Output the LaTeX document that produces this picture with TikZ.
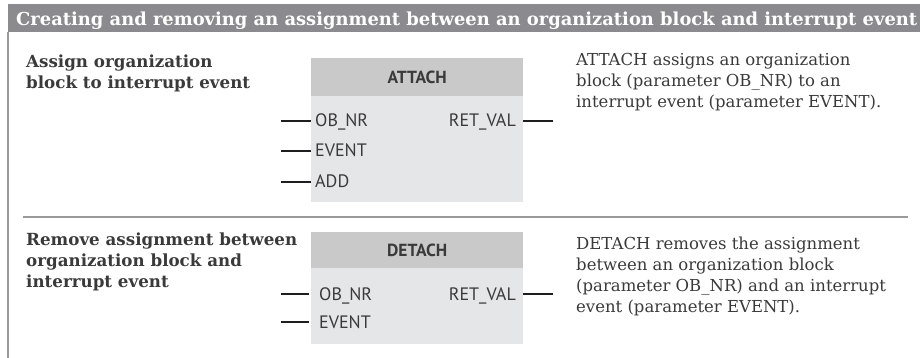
\documentclass[tikz,border=0pt]{standalone}
\usepackage{fontspec}
\setmainfont{DejaVu Serif}
\newfontfamily\blkfont{PT Sans}
\definecolor{hdrgray}{HTML}{8B8B8F}
\definecolor{blkhead}{HTML}{C9C9CA}
\definecolor{blkbody}{HTML}{E5E6E7}
\definecolor{txt}{HTML}{3A3A3A}
\definecolor{rule}{HTML}{9A9A9A}
\definecolor{pin}{HTML}{1E1E1E}
\tikzset{
  hdrtext/.style={text=white, inner sep=0pt, font={\fontsize{17.9}{20}\selectfont\bfseries}},
  headtext/.style={text=txt, inner sep=0pt, align=left, font={\fontsize{16.7}{21}\selectfont\bfseries}},
  desctext/.style={text=txt, inner sep=0pt, align=left, font={\fontsize{16.5}{21}\selectfont}},
  blktitle/.style={fill=blkhead, inner sep=0pt, minimum width=212pt, text=txt, font={\blkfont\fontsize{17.5}{20}\selectfont\bfseries}},
  blkbodystyle/.style={fill=blkbody, inner sep=0pt, minimum width=212pt},
  pinlabel/.style={text=txt, inner sep=0pt, font={\blkfont\fontsize{18}{20}\selectfont}},
  pinline/.style={draw=pin, line width=2pt},
  rulestyle/.style={draw=rule, line width=1.3pt}
}
\begin{document}
\begin{tikzpicture}[x=1pt,y=-1pt]
\useasboundingbox (0,0) rectangle (920,358);
% header
\fill[hdrgray] (7.5,4) rectangle (920,32);
\node[hdrtext, anchor=base west] (title) at (16,26) {Creating and removing an assignment between an organization block and interrupt event};
\draw[rulestyle] (8,32) -- (8,358);
\draw[rulestyle] (23,217) -- (908,217);

% ATTACH section (base anchor = baseline of last line)
\node[headtext, anchor=base west] (h1) at (26,89) {Assign organization\\block to interrupt event};
\node[blktitle, minimum height=38pt, anchor=north west] (atth) at (311,58) {ATTACH};
\node[blkbodystyle, minimum height=106pt, anchor=north west] (attb) at (311,96) {};
\node[pinlabel, anchor=base west] (a1) at (315,127) {OB\_NR};
\node[pinlabel, anchor=base west] (a2) at (315,157) {EVENT};
\node[pinlabel, anchor=base west] (a3) at (315,188) {ADD};
\node[pinlabel, anchor=base east] (a4) at (516,127) {RET\_VAL};
\coordinate (a1e) at (281,121.5);
\coordinate (a2e) at (281,151.5);
\coordinate (a3e) at (281,182);
\coordinate (a4e) at (553,121.5);
\draw[pinline] (a1e) -- (a1e -| attb.west);
\draw[pinline] (a2e) -- (a2e -| attb.west);
\draw[pinline] (a3e) -- (a3e -| attb.west);
\draw[pinline] (a4e -| attb.east) -- (a4e);
\node[desctext, anchor=base west] (d1) at (576,108) {ATTACH assigns an organization\\block (parameter OB\_NR) to an\\interrupt event (parameter EVENT).};

% DETACH section
\node[headtext, anchor=base west] (h2) at (26,287) {Remove assignment between\\organization block and\\interrupt event};
\node[blktitle, minimum height=36pt, anchor=north west] (deth) at (311,232) {DETACH};
\node[blkbodystyle, minimum height=76pt, anchor=north west] (detb) at (311,268) {};
\node[pinlabel, anchor=base west] (b1) at (319,300) {OB\_NR};
\node[pinlabel, anchor=base west] (b2) at (319,328) {EVENT};
\node[pinlabel, anchor=base east] (b3) at (516,300) {RET\_VAL};
\coordinate (b1e) at (281,294);
\coordinate (b2e) at (281,322);
\coordinate (b3e) at (553,294);
\draw[pinline] (b1e) -- ++(28,0);
\draw[pinline] (b2e) -- ++(28,0);
\draw[pinline] (b3e -| detb.east) -- (b3e);
\node[desctext, anchor=base west] (d2) at (576,312) {DETACH removes the assignment\\between an organization block\\(parameter OB\_NR) and an interrupt\\event (parameter EVENT).};
\end{tikzpicture}
\end{document}
